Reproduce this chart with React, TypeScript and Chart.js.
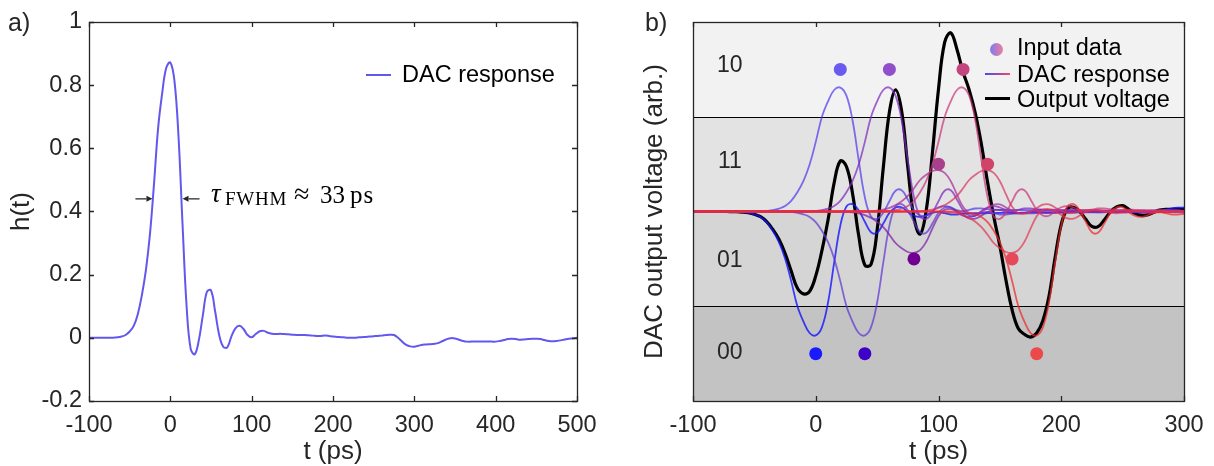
import React, { useEffect, useRef } from "react";
import { Chart, registerables } from "chart.js";
Chart.register(...registerables);

const FONT = "'Liberation Sans', Arial, Helvetica, sans-serif";
const SERIF = "'Liberation Serif', 'DejaVu Serif', serif";
const INK = "#262626";
const TICK_SIZE = 23.5;
const TITLE_SIZE = 26;

// ---- impulse response h(t), sampled every 5 ps from -100 ps to 500 ps ----
const H_START = -100;
const H_STEP = 5;
const H_VALUES = [
  0, 0, 0, 0, 0, 0, 0.0005, 0.0015, 0.004, 0.009,
  0.02, 0.038, 0.075, 0.135, 0.215, 0.33, 0.49, 0.665, 0.775, 0.855,
  0.872, 0.815, 0.64, 0.36, 0.1, -0.035, -0.052, -0.008, 0.072, 0.146,
  0.15, 0.085, 0.01, -0.028, -0.03, 0.004, 0.03, 0.038, 0.028, 0.009,
  0.002, 0.012, 0.021, 0.022, 0.016, 0.013, 0.012, 0.013, 0.012, 0.011,
  0.01, 0.009, 0.009, 0.009, 0.008, 0.007, 0.006, 0.006, 0.007, 0.006,
  0.004, 0.003, 0.002, 0.001, 0, 0, 0.001, 0.002, 0.003, 0.004,
  0.005, 0.006, 0.007, 0.009, 0.01, 0.009, 0, -0.012, -0.022, -0.027,
  -0.028, -0.025, -0.022, -0.021, -0.02, -0.019, -0.016, -0.01, -0.004, -0.001,
  -0.002, -0.006, -0.01, -0.012, -0.012, -0.012, -0.012, -0.012, -0.012, -0.012,
  -0.012, -0.01, -0.007, -0.004, -0.003, -0.004, -0.006, -0.005, -0.004, -0.003,
  -0.003, -0.004, -0.007, -0.01, -0.011, -0.01, -0.008, -0.005, -0.003, -0.001,
  0,
];

// ---- input symbols (panel b) ----
const SYMBOL_TIMES = [0, 20, 40, 60, 80, 100, 120, 140, 160, 180];
const SYMBOL_CODES = ["00", "10", "00", "10", "01", "11", "10", "11", "01", "00"];
const DOT_COLORS = [
  "#1a1aff", "#6a5aee", "#3f00c8", "#9050cc", "#700090",
  "#a8408c", "#c4447e", "#d04468", "#e44a5a", "#ec4a4a",
];
const LINE_COLORS = [
  "rgba(20,20,255,0.8)", "rgba(80,60,235,0.72)", "rgba(95,55,210,0.72)", "rgba(125,40,190,0.72)",
  "rgba(125,30,165,0.72)", "rgba(165,40,145,0.7)", "rgba(200,50,120,0.7)", "rgba(215,50,95,0.7)",
  "rgba(230,50,75,0.7)", "rgba(240,40,40,0.72)",
];

// ---- levels / bands (panel b) ----
const BAND_CODES = ["00", "01", "11", "10"];
const BAND_LEVELS = [-1.5, -0.5, 0.5, 1.5];
const BAND_LABEL_LEVELS = [-1.49, -0.52, 0.53, 1.54];
const BAND_EDGES = [-2, -1, 0, 1, 2];
const BAND_COLORS = ["#c3c3c3", "#d5d5d5", "#e3e3e3", "#f2f2f2"];
const BAND_LABEL_T = -70;

// ---- axes ----
const LEFT_X_TICKS = [-100, 0, 100, 200, 300, 400, 500];
const LEFT_Y_TICKS = [-0.2, 0, 0.2, 0.4, 0.6, 0.8, 1];
const RIGHT_X_TICKS = [-100, 0, 100, 200, 300];
const RIGHT_T_START = -100;
const RIGHT_T_END = 300;

// FWHM annotation (arrow tips in ps, level in h units)
const FWHM_TIPS = [-22, 15];
const FWHM_LEVEL = 0.44;

const PULSE_COLOR = "#6258ee";

function hAt(d: number): number {
  const idx = Math.round((d - H_START) / H_STEP);
  if (idx < 0 || idx >= H_VALUES.length) return 0;
  return H_VALUES[idx];
}

const levelOf = (code: string) => BAND_LEVELS[BAND_CODES.indexOf(code)];

const framePlugin = {
  id: "frame",
  beforeDatasetsDraw(chart: any, _a: any, opts: any) {
    if (!opts.bands) return;
    const { ctx, chartArea: a, scales } = chart;
    const x = scales.x, y = scales.y;
    ctx.save();
    for (let i = 0; i < BAND_COLORS.length; i++) {
      const yt = y.getPixelForValue(BAND_EDGES[i + 1]);
      const yb = y.getPixelForValue(BAND_EDGES[i]);
      ctx.fillStyle = BAND_COLORS[i];
      ctx.fillRect(a.left, yt, a.right - a.left, yb - yt);
    }
    ctx.strokeStyle = "#000";
    ctx.lineWidth = 1.2;
    for (let i = 1; i < BAND_EDGES.length - 1; i++) {
      if (BAND_EDGES[i] === 0) continue;
      const py = Math.round(y.getPixelForValue(BAND_EDGES[i])) + 0.5;
      ctx.beginPath();
      ctx.moveTo(a.left, py);
      ctx.lineTo(a.right, py);
      ctx.stroke();
    }
    ctx.fillStyle = INK;
    ctx.font = `23px ${FONT}`;
    ctx.textAlign = "center";
    ctx.textBaseline = "middle";
    BAND_CODES.forEach((c, i) => {
      ctx.fillText(c, x.getPixelForValue(BAND_LABEL_T), y.getPixelForValue(BAND_LABEL_LEVELS[i]));
    });
    ctx.restore();
  },
  afterDatasetsDraw(chart: any, _a: any, opts: any) {
    const { ctx, chartArea: a, scales } = chart;
    const x = scales.x, y = scales.y;
    ctx.save();
    ctx.strokeStyle = INK;
    ctx.lineWidth = 1.3;
    ctx.strokeRect(Math.round(a.left) + 0.5, Math.round(a.top) + 0.5,
      Math.round(a.right - a.left), Math.round(a.bottom - a.top));
    const L = 5;
    ctx.beginPath();
    (opts.xTicks || []).forEach((v: number) => {
      const px = Math.round(x.getPixelForValue(v)) + 0.5;
      ctx.moveTo(px, a.bottom); ctx.lineTo(px, a.bottom - L);
      ctx.moveTo(px, a.top); ctx.lineTo(px, a.top + L);
    });
    (opts.yTicks || []).forEach((v: number) => {
      const py = Math.round(y.getPixelForValue(v)) + 0.5;
      ctx.moveTo(a.left, py); ctx.lineTo(a.left + L, py);
      ctx.moveTo(a.right, py); ctx.lineTo(a.right - L, py);
    });
    ctx.stroke();
    if (opts.arrows) {
      const py = y.getPixelForValue(FWHM_LEVEL);
      const tl = x.getPixelForValue(FWHM_TIPS[0]);
      const tr = x.getPixelForValue(FWHM_TIPS[1]);
      const len = 17, hl = 6, hw = 3;
      ctx.fillStyle = INK;
      ctx.lineWidth = 1.2;
      ctx.beginPath();
      ctx.moveTo(tl - len, py); ctx.lineTo(tl - hl, py);
      ctx.moveTo(tr + len, py); ctx.lineTo(tr + hl, py);
      ctx.stroke();
      ctx.beginPath();
      ctx.moveTo(tl, py); ctx.lineTo(tl - hl, py - hw); ctx.lineTo(tl - hl, py + hw); ctx.closePath();
      ctx.moveTo(tr, py); ctx.lineTo(tr + hl, py - hw); ctx.lineTo(tr + hl, py + hw); ctx.closePath();
      ctx.fill();
    }
    ctx.restore();
  },
};

const tickFont = () => ({ family: FONT, size: TICK_SIZE });
const titleFont = () => ({ family: FONT, size: TITLE_SIZE });
const noGrid = { display: false, drawTicks: false };

function xAxis(min: number, max: number, ticks: number[]) {
  return {
    type: "linear", min, max,
    grid: noGrid, border: { display: false },
    afterBuildTicks: (s: any) => { s.ticks = ticks.map((v) => ({ value: v })); },
    afterFit: (s: any) => { s.height = 65; s.paddingLeft = 0; s.paddingRight = 0; },
    ticks: { font: tickFont(), color: INK, padding: 10, maxRotation: 0, autoSkip: false,
      callback: (v: any) => String(v) },
    title: { display: true, text: "t (ps)", font: titleFont(), color: INK, padding: { top: 0, bottom: -1 } },
  };
}

function leftConfig(): any {
  const pts = H_VALUES.map((v, i) => ({ x: H_START + i * H_STEP, y: v }));
  return {
    type: "line",
    data: {
      datasets: [{
        data: pts, borderColor: PULSE_COLOR, borderWidth: 2, pointRadius: 0, tension: 0.4, fill: false,
      }],
    },
    options: {
      animation: false, responsive: false, devicePixelRatio: 1,
      layout: { padding: { left: 0, right: 23, top: 22, bottom: 0 } },
      plugins: {
        legend: { display: false }, tooltip: { enabled: false },
        frame: { xTicks: LEFT_X_TICKS, yTicks: LEFT_Y_TICKS, arrows: true },
      },
      scales: {
        x: xAxis(-100, 500, LEFT_X_TICKS),
        y: {
          type: "linear", min: -0.2, max: 1,
          grid: noGrid, border: { display: false },
          afterBuildTicks: (s: any) => { s.ticks = LEFT_Y_TICKS.map((v) => ({ value: v })); },
          afterFit: (s: any) => { s.width = 89; s.paddingTop = 0; s.paddingBottom = 0; },
          ticks: { font: tickFont(), color: INK, padding: 7, autoSkip: false,
            callback: (v: any) => String(Math.round(v * 10) / 10) },
          title: { display: true, text: "h(t)", font: titleFont(), color: INK, padding: { top: 6.5, bottom: 0 } },
        },
      },
    },
    plugins: [framePlugin],
  };
}

function rightConfig(): any {
  const ts: number[] = [];
  for (let t = RIGHT_T_START; t <= RIGHT_T_END; t += H_STEP) ts.push(t);
  const responses = SYMBOL_TIMES.map((tk, k) => {
    const lvl = levelOf(SYMBOL_CODES[k]);
    return ts.map((t) => ({ x: t, y: lvl * hAt(t - tk) }));
  });
  const output = ts.map((t, i) => ({ x: t, y: responses.reduce((s, r) => s + r[i].y, 0) }));
  const dots = SYMBOL_TIMES.map((tk, k) => ({ x: tk, y: levelOf(SYMBOL_CODES[k]) }));
  const datasets: any[] = [];
  datasets.push({
    type: "line", data: output, borderColor: "#000", borderWidth: 3.2, pointRadius: 0,
    tension: 0.4, fill: false, order: 100,
  });
  responses.forEach((r, k) => datasets.push({
    type: "line", data: r, borderColor: LINE_COLORS[k], borderWidth: 1.8, pointRadius: 0,
    tension: 0.4, fill: false, order: 50 - k,
  }));
  datasets.push({
    type: "scatter", data: dots, showLine: false, pointRadius: 6.5, pointHoverRadius: 6.5,
    pointBackgroundColor: DOT_COLORS, pointBorderWidth: 0, borderWidth: 0, order: 0,
  });
  return {
    type: "line",
    data: { datasets },
    options: {
      animation: false, responsive: false, devicePixelRatio: 1,
      layout: { padding: { left: 0, right: 30, top: 22, bottom: 0 } },
      plugins: {
        legend: { display: false }, tooltip: { enabled: false },
        frame: { xTicks: RIGHT_X_TICKS, yTicks: [], bands: true },
      },
      scales: {
        x: xAxis(RIGHT_T_START, RIGHT_T_END, RIGHT_X_TICKS),
        y: {
          type: "linear", min: -2, max: 2,
          grid: noGrid, border: { display: false },
          afterFit: (s: any) => { s.width = 93; s.paddingTop = 0; s.paddingBottom = 0; },
          ticks: { display: false },
          title: { display: true, text: "DAC output voltage (arb.)", font: titleFont(), color: INK,
            padding: { top: 39.5, bottom: 0 } },
        },
      },
    },
    plugins: [framePlugin],
  };
}

const txt = (left: number, cy: number, s: string, size = TICK_SIZE, extra: any = {}) => (
  <div style={{
    position: "absolute", left, top: cy - 13, height: 26, lineHeight: "26px", fontSize: size,
    fontFamily: FONT, color: "#000", whiteSpace: "nowrap", ...extra,
  }}>{s}</div>
);

// piece of serif annotation placed by its baseline
const serif = (left: number, baseline: number, size: number, s: string, extra: any = {}) => (
  <div style={{
    position: "absolute", left, top: baseline - 0.8375 * size, height: size, lineHeight: `${size}px`,
    fontSize: size, fontFamily: SERIF, color: "#000", whiteSpace: "nowrap", ...extra,
  }}>{s}</div>
);

export default function App() {
  const leftRef = useRef<HTMLCanvasElement>(null);
  const rightRef = useRef<HTMLCanvasElement>(null);
  useEffect(() => {
    const c1 = new Chart(leftRef.current!, leftConfig());
    const c2 = new Chart(rightRef.current!, rightConfig());
    return () => { c1.destroy(); c2.destroy(); };
  }, []);
  return (
    <div style={{ position: "fixed", left: 0, top: 0, width: 1214, height: 466, background: "#fff", overflow: "hidden" }}>
      <canvas ref={leftRef} width={600} height={466} style={{ position: "absolute", left: 0, top: 0, width: 600, height: 466 }} />
      <canvas ref={rightRef} width={614} height={466} style={{ position: "absolute", left: 600, top: 0, width: 614, height: 466 }} />
      {txt(8, 22, "a)", 25, { color: INK })}
      {txt(645, 22, "b)", 25, { color: INK })}
      {/* left legend */}
      <div style={{ position: "absolute", left: 366, top: 74, width: 25, height: 2, background: PULSE_COLOR }} />
      {txt(402, 74, "DAC response")}
      {/* FWHM annotation */}
      {serif(211, 203, 27, "τ", { fontStyle: "italic" })}
      {serif(225, 204.5, 19, "FWHM", { letterSpacing: 0.8 })}
      {serif(294, 203, 28, "≈")}
      {serif(320, 202.5, 25, "33")}
      {serif(350, 202.5, 25, "ps", { letterSpacing: 1 })}
      {/* right legend */}
      <div style={{
        position: "absolute", left: 990, top: 43, width: 13, height: 13, borderRadius: "50%",
        background: "linear-gradient(to right, #7c7cf2, #f07c9c)",
      }} />
      {txt(1017, 47, "Input data")}
      <div style={{
        position: "absolute", left: 985, top: 73, width: 25, height: 2,
        background: "linear-gradient(to right, #4a4af0, #f04a64)",
      }} />
      {txt(1017, 74, "DAC response")}
      <div style={{ position: "absolute", left: 985, top: 97, width: 25, height: 3, background: "#000" }} />
      {txt(1017, 99, "Output voltage")}
    </div>
  );
}
